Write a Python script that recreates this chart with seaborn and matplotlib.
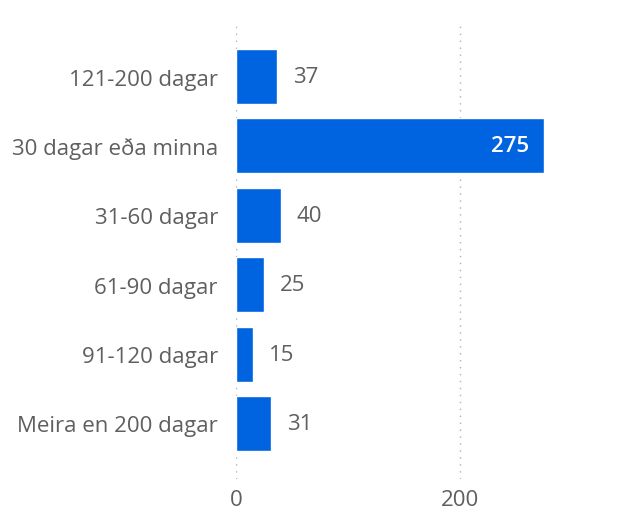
import matplotlib
matplotlib.use("Agg")
import matplotlib.pyplot as plt
import seaborn as sns
import pandas as pd

# data
categories = ["121-200 dagar", "30 dagar eða minna", "31-60 dagar",
              "61-90 dagar", "91-120 dagar", "Meira en 200 dagar"]
counts = [37, 275, 40, 25, 15, 31]

df = pd.DataFrame({"flokkur": categories, "fjoldi": counts})

sns.set_theme(style="white")
plt.rcParams["font.family"] = ["Open Sans", "DejaVu Sans"]

fig = plt.figure(figsize=(6.31, 5.10), dpi=100)
# axes runs off the right edge, like the cropped original
ax = fig.add_axes([236 / 631, 30 / 510, 400 / 631, 458 / 510])

sns.barplot(data=df, x="fjoldi", y="flokkur", color="#0063E0",
            width=0.79, saturation=1, ax=ax)

fs = 16
txt = "#5f5f5f"
ax.set_xlim(0, 357)
ax.set_ylim(5.8, -0.8)
ax.set_xticks([0, 200])
ax.xaxis.grid(True, linestyle=(0, (1, 4)), color="#b0b0b0", linewidth=1)
ax.set_axisbelow(True)
for s in ax.spines.values():
    s.set_visible(False)
ax.set_xlabel("")
ax.set_ylabel("")
ax.tick_params(axis="y", length=0, pad=13, labelsize=fs, labelcolor=txt)
ax.tick_params(axis="x", length=0, pad=7, labelsize=fs, labelcolor=txt)

for i, v in enumerate(counts):
    if v > 200:
        ax.annotate(str(v), (v, i), xytext=(-11, 0), textcoords="offset points",
                    ha="right", va="center", color="white", fontsize=fs,
                    fontweight="semibold")
    else:
        ax.annotate(str(v), (v, i), xytext=(11.5, 0), textcoords="offset points",
                    ha="left", va="center", color=txt, fontsize=fs)

fig.savefig("out.png", dpi=100)
